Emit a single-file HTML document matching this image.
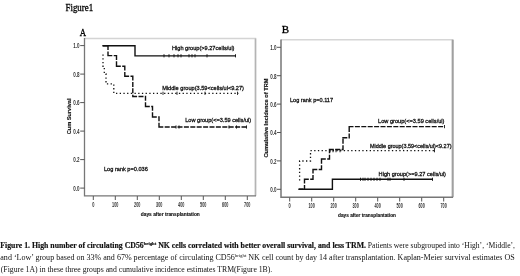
<!DOCTYPE html>
<html><head><meta charset="utf-8">
<style>
html,body{margin:0;padding:0;background:#fff;width:520px;height:276px;overflow:hidden}
svg{display:block;filter:blur(0.3px)}
.sf{font-family:"Liberation Serif",serif}
.ss{font-family:"Liberation Sans",sans-serif}
</style></head><body>
<svg width="520" height="276" viewBox="0 0 520 276">
<rect width="520" height="276" fill="#fff"/>
<!-- Title -->
<text class="sf" x="65.5" y="11.1" font-size="10.6" fill="#000" stroke="#000" stroke-width="0.3" textLength="27.6" lengthAdjust="spacingAndGlyphs">Figure1</text>
<text class="sf" x="79.8" y="35.9" font-size="11" fill="#000" stroke="#000" stroke-width="0.3" textLength="6.3" lengthAdjust="spacingAndGlyphs">A</text>
<text class="sf" x="281.8" y="33.4" font-size="11" fill="#000" stroke="#000" stroke-width="0.3">B</text>

<!-- ===== Chart A ===== -->
<g>
<path d="M84.5,38.5 H255.5 V195.8" fill="none" stroke="#d4d4d4" stroke-width="1.5"/>
<path d="M255.5,38.5 V195.8" fill="none" stroke="#b4b4b4" stroke-width="1.5"/>
<path d="M84.5,38 V195.8 H256" fill="none" stroke="#777" stroke-width="1.3"/>
<g stroke="#555" stroke-width="1">
<path d="M80.2,45.6H84.5M80.2,74.1H84.5M80.2,102.6H84.5M80.2,131.1H84.5M80.2,159.6H84.5M80.2,188.1H84.5"/>
<path d="M93.3,196V200M115.3,196V200M137.3,196V200M159.3,196V200M181.3,196V200M203.3,196V200M225.3,196V200M247.3,196V200"/>
</g>
<g class="ss" font-size="6.6" font-weight="bold" fill="#333" text-anchor="end">
<text x="79.6" y="48.4" textLength="6.3" lengthAdjust="spacingAndGlyphs">1.0</text>
<text x="79.6" y="76.9" textLength="6.3" lengthAdjust="spacingAndGlyphs">0.8</text>
<text x="79.6" y="105.4" textLength="6.3" lengthAdjust="spacingAndGlyphs">0.6</text>
<text x="79.6" y="133.9" textLength="6.3" lengthAdjust="spacingAndGlyphs">0.4</text>
<text x="79.6" y="162.4" textLength="6.3" lengthAdjust="spacingAndGlyphs">0.2</text>
<text x="79.6" y="190.9" textLength="6.3" lengthAdjust="spacingAndGlyphs">0.0</text>
</g>
<g class="ss" font-size="6.6" font-weight="bold" fill="#333">
<text x="92.2" y="206.7" textLength="2.2" lengthAdjust="spacingAndGlyphs">0</text>
<text x="112.1" y="206.7" textLength="6.3" lengthAdjust="spacingAndGlyphs">100</text>
<text x="134.1" y="206.7" textLength="6.3" lengthAdjust="spacingAndGlyphs">200</text>
<text x="156.1" y="206.7" textLength="6.3" lengthAdjust="spacingAndGlyphs">300</text>
<text x="178.1" y="206.7" textLength="6.3" lengthAdjust="spacingAndGlyphs">400</text>
<text x="200.1" y="206.7" textLength="6.3" lengthAdjust="spacingAndGlyphs">500</text>
<text x="222.1" y="206.7" textLength="6.3" lengthAdjust="spacingAndGlyphs">600</text>
<text x="244.1" y="206.7" textLength="6.3" lengthAdjust="spacingAndGlyphs">700</text>
</g>
<text class="ss" x="140.8" y="215.7" font-size="6" font-weight="bold" fill="#111" stroke="#111" stroke-width="0.15" textLength="59" lengthAdjust="spacingAndGlyphs">days after transplantation</text>
<text class="ss" transform="translate(70.8,134.3) rotate(-90)" font-size="6" font-weight="bold" fill="#111" stroke="#111" stroke-width="0.15" textLength="35.8" lengthAdjust="spacingAndGlyphs">Cum Survival</text>

<!-- lines -->
<path d="M103,45.8H135V55.9H236" fill="none" stroke="#111" stroke-width="1.4"/>
<path d="M103.0,45.8H108.0M108.0,45.8V55.6M108.0,55.6H116.5M116.5,55.6V66.2M116.5,66.2H124.8M124.8,66.2V76.2M124.8,76.2H132.8M132.8,76.2V96.5M132.8,96.5H145.5M145.5,96.5V106.5M145.5,106.5H152.5M152.5,106.5V117.0M152.5,117.0H159.0M159.0,117.0V127.0M159.0,127.0H248.0" fill="none" stroke="#111" stroke-width="1.4" stroke-linecap="square" stroke-dasharray="3.6,2.8"/>
<path d="M103,54.5V67H104.3V74H106V83.9H113.8V93.3H238.5" fill="none" stroke="#111" stroke-width="1.3" stroke-dasharray="1.3,2.4"/>

<path d="M164,54.199999999999996V57.4M169,54.199999999999996V57.4M174,54.199999999999996V57.4M178,54.199999999999996V57.4M181,54.199999999999996V57.4M189,54.199999999999996V57.4M192,54.199999999999996V57.4M195,54.199999999999996V57.4M207,54.199999999999996V57.4M235.5,54.199999999999996V57.4M163,91.7V94.89999999999999M177,91.7V94.89999999999999M205,91.7V94.89999999999999M237.5,91.7V94.89999999999999M176,125.4V128.6M179,125.4V128.6M229,125.4V128.6M236.5,125.4V128.6M246.5,125.4V128.6" stroke="#111" stroke-width="0.9" fill="none"/>
<g class="ss" font-size="6.2" fill="#111" stroke="#111" stroke-width="0.3">
<text x="172" y="50.2" textLength="62.5" lengthAdjust="spacingAndGlyphs">High group(&gt;9.27cells/ul)</text>
<text x="162.2" y="90.4" textLength="81.8" lengthAdjust="spacingAndGlyphs">Middle group(3.59&lt;cells/ul&lt;9.27)</text>
<text x="185.2" y="121.9" textLength="66" lengthAdjust="spacingAndGlyphs">Low group(&lt;=3.59 cells/ul)</text>
<text x="104" y="171.4" textLength="43.8" lengthAdjust="spacingAndGlyphs">Log rank p=0.036</text>
</g>
</g>

<!-- ===== Chart B ===== -->
<g>
<path d="M281,39.7 H452.5 V197.2" fill="none" stroke="#d6d6d6" stroke-width="1.5"/>
<path d="M452.7,39.7 V197.2" fill="none" stroke="#a0a0a0" stroke-width="2"/>
<path d="M281,39.5 V197.2 H453" fill="none" stroke="#777" stroke-width="1.5"/>
<g stroke="#555" stroke-width="1">
<path d="M277,47.3H281M277,75.7H281M277,104.1H281M277,132.5H281M277,160.9H281M277,189.3H281"/>
<path d="M289.7,197.5V201.5M311.7,197.5V201.5M333.7,197.5V201.5M355.7,197.5V201.5M377.7,197.5V201.5M399.7,197.5V201.5M421.7,197.5V201.5M443.7,197.5V201.5"/>
</g>
<g class="ss" font-size="6.6" font-weight="bold" fill="#333" text-anchor="end">
<text x="276.6" y="50.1" textLength="6.3" lengthAdjust="spacingAndGlyphs">1.0</text>
<text x="276.6" y="78.5" textLength="6.3" lengthAdjust="spacingAndGlyphs">0.8</text>
<text x="276.6" y="106.9" textLength="6.3" lengthAdjust="spacingAndGlyphs">0.6</text>
<text x="276.6" y="135.3" textLength="6.3" lengthAdjust="spacingAndGlyphs">0.4</text>
<text x="276.6" y="163.7" textLength="6.3" lengthAdjust="spacingAndGlyphs">0.2</text>
<text x="276.6" y="192.1" textLength="6.3" lengthAdjust="spacingAndGlyphs">0.0</text>
</g>
<g class="ss" font-size="6.6" font-weight="bold" fill="#333">
<text x="288.6" y="207.8" textLength="2.2" lengthAdjust="spacingAndGlyphs">0</text>
<text x="308.5" y="207.8" textLength="6.3" lengthAdjust="spacingAndGlyphs">100</text>
<text x="330.5" y="207.8" textLength="6.3" lengthAdjust="spacingAndGlyphs">200</text>
<text x="352.5" y="207.8" textLength="6.3" lengthAdjust="spacingAndGlyphs">300</text>
<text x="374.5" y="207.8" textLength="6.3" lengthAdjust="spacingAndGlyphs">400</text>
<text x="396.5" y="207.8" textLength="6.3" lengthAdjust="spacingAndGlyphs">500</text>
<text x="418.5" y="207.8" textLength="6.3" lengthAdjust="spacingAndGlyphs">600</text>
<text x="440.5" y="207.8" textLength="6.3" lengthAdjust="spacingAndGlyphs">700</text>
</g>
<text class="ss" x="338" y="216.9" font-size="6" font-weight="bold" fill="#111" stroke="#111" stroke-width="0.15" textLength="58" lengthAdjust="spacingAndGlyphs">days after transplantation</text>
<text class="ss" transform="translate(268.2,157.5) rotate(-90)" font-size="6" font-weight="bold" fill="#111" stroke="#111" stroke-width="0.15" textLength="79" lengthAdjust="spacingAndGlyphs">Cumulative Incidence of TRM</text>

<!-- lines -->
<path d="M299,189.2H332.4V179.3H433" fill="none" stroke="#111" stroke-width="1.4"/>
<path d="M299.0,189.2H304.5M304.5,189.2V179.3M304.5,179.3H313.0M313.0,179.3V169.5M313.0,169.5H321.5M321.5,169.5V159.0M321.5,159.0H329.5M329.5,159.0V149.5M329.5,149.5H343.0M343.0,149.5V137.8M343.0,137.8H349.2M349.2,137.8V126.6M349.2,126.6H445.0" fill="none" stroke="#111" stroke-width="1.4" stroke-linecap="square" stroke-dasharray="3.6,2.8"/>
<path d="M299.6,180.5V161H310.5V150.7H435.5" fill="none" stroke="#111" stroke-width="1.3" stroke-dasharray="1.3,2.4"/>

<path d="M360.5,177.70000000000002V180.9M363,177.70000000000002V180.9M365,177.70000000000002V180.9M368,177.70000000000002V180.9M371,177.70000000000002V180.9M374,177.70000000000002V180.9M377,177.70000000000002V180.9M380,177.70000000000002V180.9M388,177.70000000000002V180.9M390,177.70000000000002V180.9M404,177.70000000000002V180.9M432.5,177.70000000000002V180.9M330,149.1V152.29999999999998M333,149.1V152.29999999999998M336,149.1V152.29999999999998M340,149.1V152.29999999999998M434.5,149.1V152.29999999999998M444.5,125.0V128.2" stroke="#111" stroke-width="0.9" fill="none"/>
<g class="ss" font-size="6.2" fill="#111" stroke="#111" stroke-width="0.3">
<text x="378.6" y="175.8" textLength="67.4" lengthAdjust="spacingAndGlyphs">High group(&gt;=9.27 cells/ul)</text>
<text x="370" y="148.2" textLength="81.5" lengthAdjust="spacingAndGlyphs">Middle group(3.59&lt;cells/ul)&lt;9.27)</text>
<text x="378" y="122.7" textLength="66.5" lengthAdjust="spacingAndGlyphs">Low group(&lt;=3.59 cells/ul)</text>
<text x="290" y="101.9" textLength="43" lengthAdjust="spacingAndGlyphs">Log rank p=0.117</text>
</g>
</g>

<!-- ===== Caption ===== -->
<g class="sf" font-size="8.3" fill="#111">
<text x="0.3" y="247.5" font-weight="bold" stroke="#111" stroke-width="0.18" textLength="365.7" lengthAdjust="spacingAndGlyphs">Figure 1. High number of circulating CD56<tspan font-size="5" dy="-3">bright</tspan><tspan dy="3"> NK cells correlated with better overall survival, and less TRM.</tspan></text>
<text x="367.8" y="247.5" textLength="147.2" lengthAdjust="spacingAndGlyphs">Patients were subgrouped into ‘High’, ‘Middle’,</text>
<text x="0.3" y="259.8" textLength="514.5" lengthAdjust="spacingAndGlyphs">and ‘Low’ group based on 33% and 67% percentage of circulating CD56<tspan font-size="5" dy="-3">bright</tspan><tspan dy="3"> NK cell count by day 14 after transplantation. Kaplan-Meier survival estimates OS</tspan></text>
<text x="0.8" y="271.6" textLength="271.5" lengthAdjust="spacingAndGlyphs">(Figure 1A) in these three groups and cumulative incidence estimates TRM(Figure 1B).</text>
</g>
</svg>
</body></html>
